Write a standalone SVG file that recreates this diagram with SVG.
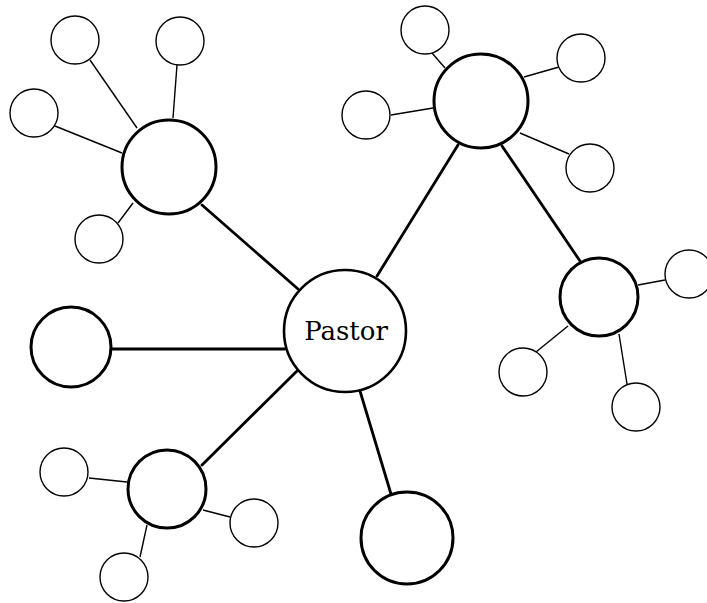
<svg xmlns="http://www.w3.org/2000/svg" width="707" height="603" viewBox="0 0 707 603">
<style>
.thick{stroke:#000;stroke-width:2.8;fill:none;stroke-linecap:round}
.thin{stroke:#000;stroke-width:1.4;fill:none}
.big{fill:#fff;stroke:#000;stroke-width:3}
.sm{fill:#fff;stroke:#000;stroke-width:1.4}
.lbl{font-family:"DejaVu Serif","Liberation Serif",serif;font-size:26px;fill:#000;text-anchor:middle}
</style>
<rect width="707" height="603" fill="#fff"/>
<g id="connectors">
<line class="thick" x1="202" y1="205" x2="298" y2="289"/>
<line class="thick" x1="458" y1="145" x2="377" y2="276"/>
<line class="thick" x1="502" y1="146" x2="580" y2="261"/>
<line class="thick" x1="112" y1="349" x2="285" y2="349"/>
<line class="thick" x1="202" y1="465" x2="297" y2="371"/>
<line class="thick" x1="360" y1="391" x2="391" y2="494"/>
<line class="thin" x1="90" y1="60" x2="137" y2="128"/>
<line class="thin" x1="177" y1="65" x2="173" y2="118"/>
<line class="thin" x1="55" y1="126" x2="122" y2="153"/>
<line class="thin" x1="118" y1="223" x2="133" y2="203"/>
<line class="thin" x1="432" y1="53" x2="445" y2="68"/>
<line class="thin" x1="391" y1="115" x2="433" y2="108"/>
<line class="thin" x1="559" y1="67" x2="524" y2="77"/>
<line class="thin" x1="569" y1="154" x2="520" y2="133"/>
<line class="thin" x1="665" y1="280" x2="638" y2="285"/>
<line class="thin" x1="536" y1="352" x2="568" y2="326"/>
<line class="thin" x1="627" y1="384" x2="619" y2="334"/>
<line class="thin" x1="89" y1="478" x2="127" y2="482"/>
<line class="thin" x1="203" y1="510" x2="230" y2="517"/>
<line class="thin" x1="147" y1="525" x2="140" y2="557"/>
</g>
<g id="pastor"><circle class="big" cx="345" cy="331" r="61" style="stroke-width:2.6"/><text class="lbl" x="346" y="340">Pastor</text></g>
<g id="hub-top-left"><circle class="big" cx="169" cy="167" r="47"/></g>
<g id="tl-a"><circle class="sm" cx="75" cy="40" r="24"/></g>
<g id="tl-b"><circle class="sm" cx="180" cy="41" r="24"/></g>
<g id="tl-c"><circle class="sm" cx="34" cy="113" r="24"/></g>
<g id="tl-d"><circle class="sm" cx="99" cy="239" r="24"/></g>
<g id="hub-top-right"><circle class="big" cx="481" cy="101" r="47"/></g>
<g id="tr-a"><circle class="sm" cx="425" cy="30" r="24"/></g>
<g id="tr-b"><circle class="sm" cx="366" cy="115" r="24"/></g>
<g id="tr-c"><circle class="sm" cx="581" cy="58" r="24"/></g>
<g id="tr-d"><circle class="sm" cx="590" cy="168" r="24"/></g>
<g id="hub-right"><circle class="big" cx="599" cy="297" r="39"/></g>
<g id="r-a"><circle class="sm" cx="689" cy="274" r="24"/></g>
<g id="r-b"><circle class="sm" cx="523" cy="372" r="24"/></g>
<g id="r-c"><circle class="sm" cx="636" cy="407" r="24"/></g>
<g id="left"><circle class="big" cx="71" cy="347" r="40"/></g>
<g id="hub-bottom-left"><circle class="big" cx="167" cy="489" r="39"/></g>
<g id="bl-a"><circle class="sm" cx="64" cy="472" r="24"/></g>
<g id="bl-b"><circle class="sm" cx="254" cy="523" r="24"/></g>
<g id="bl-c"><circle class="sm" cx="124" cy="577" r="24"/></g>
<g id="bottom"><circle class="big" cx="407" cy="538" r="46"/></g>
</svg>
